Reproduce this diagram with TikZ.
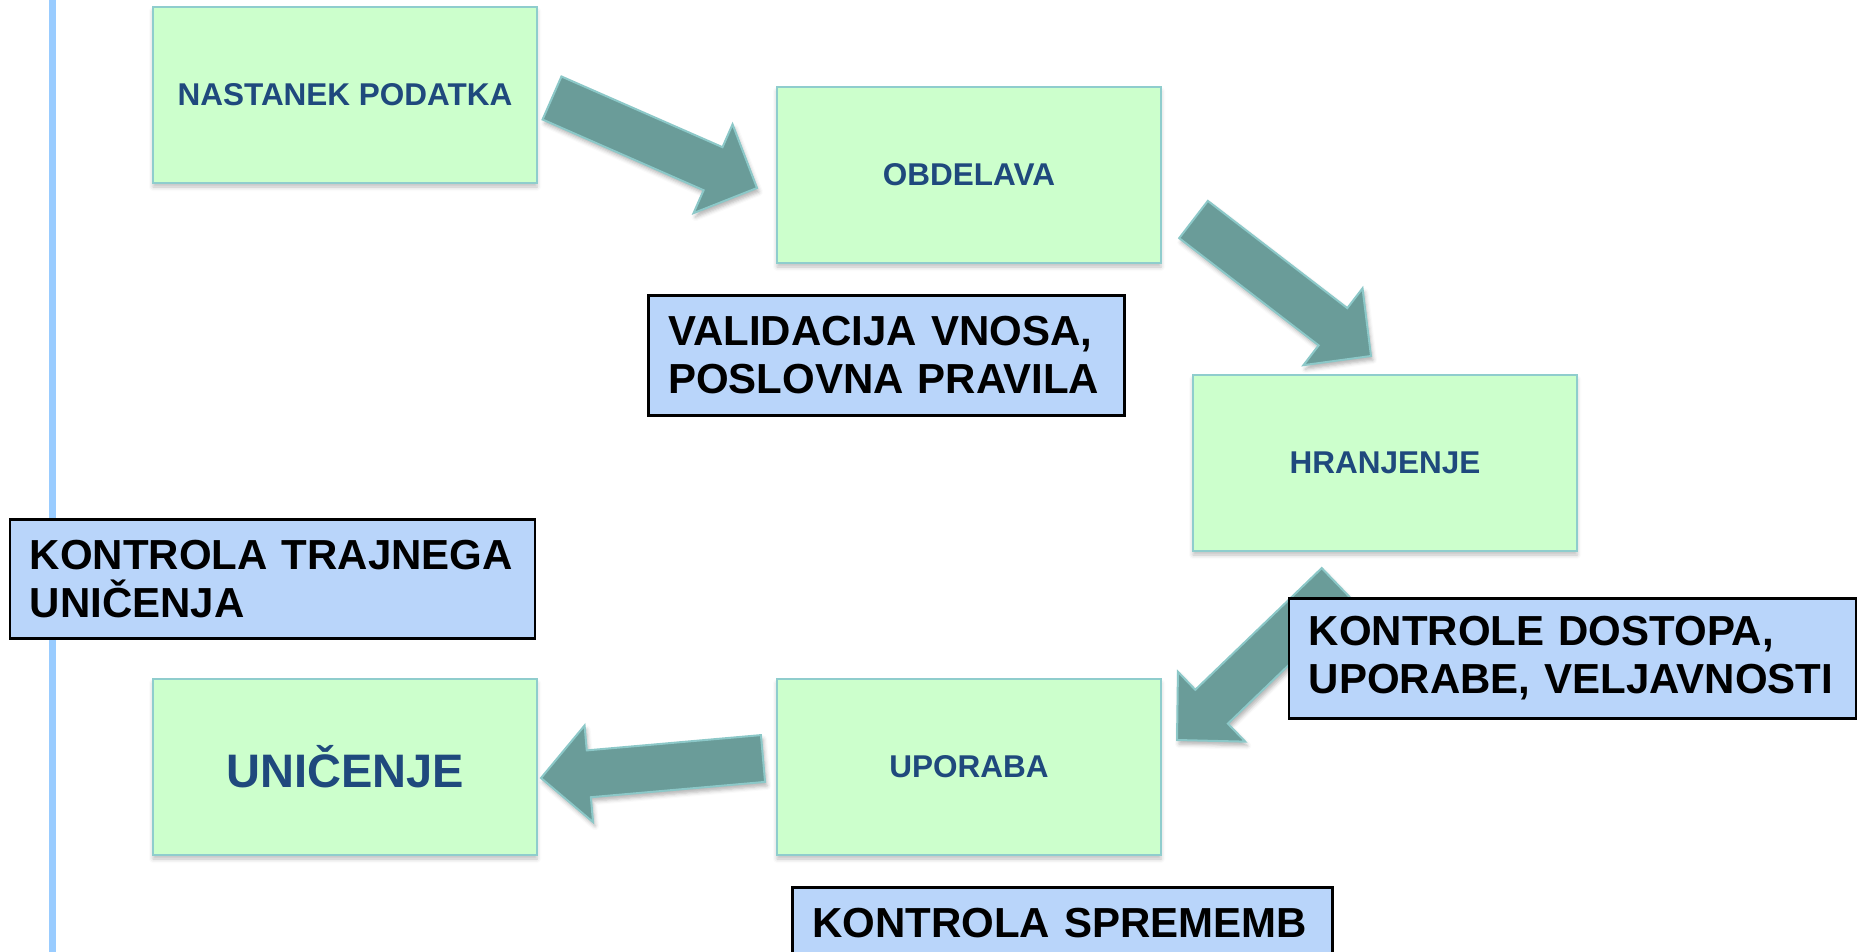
\documentclass[tikz,border=0pt]{standalone}
\usepackage{fontspec}
\setmainfont{Liberation Sans}
\usetikzlibrary{calc,shadows.blur}

\definecolor{stepfill}{RGB}{204,255,204}
\definecolor{stepedge}{RGB}{143,205,205}
\definecolor{steptext}{RGB}{31,73,125}
\definecolor{notefill}{RGB}{185,213,250}
\definecolor{arrfill}{RGB}{106,156,153}
\definecolor{arredge}{RGB}{140,200,200}
\definecolor{railcol}{RGB}{153,204,255}

% block arrow from tail centre #2 to tip #3; #1 names the head-base point
\newcommand\blockarrow[3]{%
  \coordinate (#1hb) at ($(#3)!48pt!(#2)$);
  \draw[blockarr] ($(#2)!23.5pt!90:(#3)$) -- ($(#1hb)!23.5pt!90:(#3)$)
    -- ($(#1hb)!48.5pt!90:(#3)$) -- (#3) -- ($(#1hb)!48.5pt!-90:(#3)$)
    -- ($(#1hb)!23.5pt!-90:(#3)$) -- ($(#2)!23.5pt!-90:(#3)$) -- cycle;
}

\begin{document}
\begin{tikzpicture}[x=1pt,y=-1pt,
  stepbox/.style={draw=stepedge, line width=2pt, fill=stepfill,
    minimum width=384pt, minimum height=176pt, anchor=north west,
    inner sep=0pt, text=steptext,
    font=\bfseries\fontsize{31.5}{38}\selectfont,
    blur shadow={shadow xshift=0pt, shadow yshift=-4pt,
      shadow opacity=25, shadow blur radius=4pt}},
  notebox/.style={draw=black, line width=2.5pt, fill=notefill,
    anchor=north west, align=left, inner xsep=20pt, inner ysep=0pt,
    text=black, font=\bfseries\fontsize{42}{48}\selectfont},
  blockarr/.style={fill=arrfill, draw=arredge, line width=2pt,
    line join=miter,
    blur shadow={shadow xshift=2pt, shadow yshift=-4pt,
      shadow opacity=30, shadow blur radius=4pt}},
  rail/.style={draw=railcol, line width=7pt}
]
\useasboundingbox (0,0) rectangle (1857,952);

% vertical rail on the left
\coordinate (railtop) at (52.5,-10);
\coordinate (railbot) at (52.5,962);
\draw[rail] (railtop) -- (railbot);

% lifecycle steps
\node[stepbox] (nastanek) at (152,6)   {NASTANEK PODATKA};
\node[stepbox] (obdelava) at (776,86)  {OBDELAVA};
\node[stepbox] (hranj)    at (1192,374) {HRANJENJE};
\node[stepbox] (uporaba)  at (776,678) {UPORABA};
\node[stepbox, font=\bfseries\fontsize{47}{56}\selectfont] (unic) at (152,678) {UNIČENJE};

% block arrows between the steps
\coordinate (a1t) at (552,98);    \coordinate (a1p) at (757,188);
\coordinate (a2t) at (1193.5,219.5); \coordinate (a2p) at (1371,356);
\coordinate (a3t) at (1338,585);  \coordinate (a3p) at (1177,740);
\coordinate (a4t) at (763,758.5); \coordinate (a4p) at (541,778);
\blockarrow{a1}{a1t}{a1p}
\blockarrow{a2}{a2t}{a2p}
\blockarrow{a3}{a3t}{a3p}
\blockarrow{a4}{a4t}{a4p}

% control notes
\node[notebox, text width=436pt, minimum height=120pt] (valid) at (647,294)
  {VALIDACIJA VNOSA,\\POSLOVNA PRAVILA};
\node[notebox, text width=485pt, minimum height=119pt] (trajno) at (8.7,518)
  {KONTROLA TRAJNEGA\\UNIČENJA};
\node[notebox, text width=527pt, minimum height=120pt] (dostop) at (1287.5,597)
  {KONTROLE DOSTOPA,\\UPORABE, VELJAVNOSTI};
\node[notebox, text width=500pt, inner ysep=21pt] (spremembe) at (791,886)
  {KONTROLA SPREMEMB};
\end{tikzpicture}
\end{document}
